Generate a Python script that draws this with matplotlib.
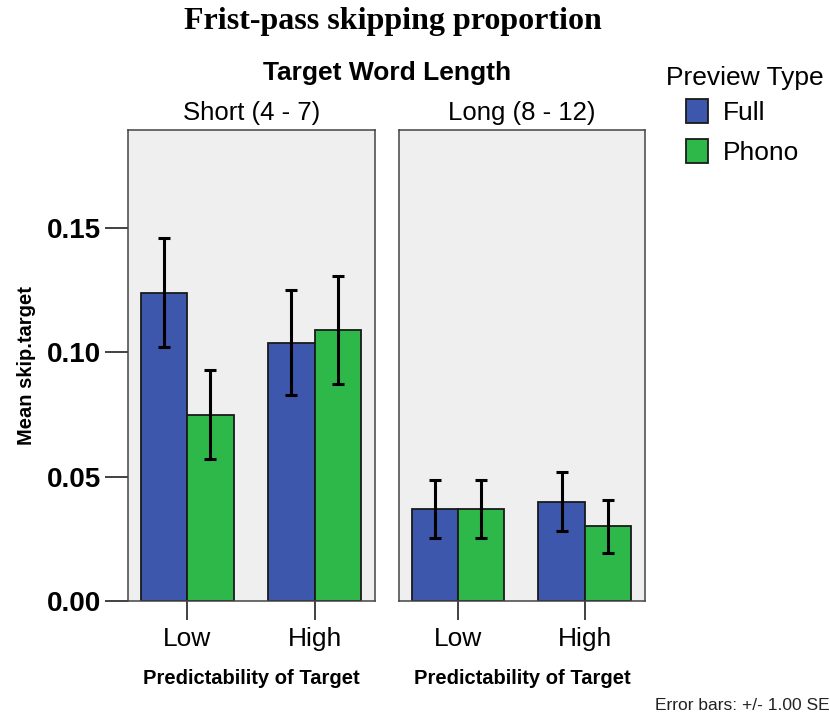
import matplotlib
matplotlib.use("Agg")
import matplotlib.pyplot as plt
from matplotlib.patches import Patch
import numpy as np

# skip proportions by word length panel, predictability and preview type
lengths = ["Short (4 - 7)", "Long (8 - 12)"]
predictability = ["Low", "High"]
preview = ["Full", "Phono"]
means = {
    "Short (4 - 7)": {"Full": [0.124, 0.104], "Phono": [0.075, 0.109]},
    "Long (8 - 12)": {"Full": [0.037, 0.040], "Phono": [0.037, 0.030]},
}
ses = {
    "Short (4 - 7)": {"Full": [0.022, 0.021], "Phono": [0.018, 0.0217]},
    "Long (8 - 12)": {"Full": [0.0117, 0.012], "Phono": [0.0117, 0.0108]},
}
colors = {"Full": "#3d57ac", "Phono": "#2eb84a"}

W, H = 830, 719
fig = plt.figure(figsize=(W / 100, H / 100), dpi=100)
sans = ["Liberation Sans", "DejaVu Sans"]
plt.rcParams["font.family"] = sans

fig.text(393 / W, 1 - 21 / H, "Frist-pass skipping proportion", ha="center", va="center",
         fontsize=23, fontweight="bold", family=["Liberation Serif", "DejaVu Serif"])
fig.text(387 / W, 1 - 73 / H, "Target Word Length", ha="center", va="center",
         fontsize=19, fontweight="bold")

panels = [(128, 247), (399, 246)]
top, bottom = 130, 601
x = np.arange(len(predictability))
bw = 0.365
for i, (length, (px, pw)) in enumerate(zip(lengths, panels)):
    ax = fig.add_axes([px / W, 1 - bottom / H, pw / W, (bottom - top) / H])
    ax.set_facecolor("#efefef")
    for j, p in enumerate(preview):
        off = (j - 0.5) * bw
        ax.bar(x + off, means[length][p], width=bw, color=colors[p],
               edgecolor="#1a1a1a", linewidth=1.3, zorder=2)
        ax.errorbar(x + off, means[length][p], yerr=ses[length][p], fmt="none",
                    ecolor="black", elinewidth=2.2, capsize=4.5, capthick=2.2, zorder=3)
    ax.set_xlim(-0.465, 1.475)
    ax.set_ylim(0, 0.1895)
    ax.set_xticks(x)
    ax.set_xticklabels(predictability, fontsize=19)
    ax.tick_params(axis="x", length=13.7, width=1.3, color="#333333", pad=5)
    ax.set_xlabel("Predictability of Target", fontsize=14.5, fontweight="bold", labelpad=13)
    for s in ax.spines.values():
        s.set_color("#444444")
        s.set_linewidth(1.1)
    ax.set_title(length, fontsize=18.5, pad=7)
    if i == 0:
        ax.set_yticks([0, 0.05, 0.10, 0.15])
        ax.set_yticklabels(["0.00", "0.05", "0.10", "0.15"], fontsize=20, fontweight="bold")
        ax.tick_params(axis="y", length=16.5, width=1.3, color="#333333", pad=3)
        ax.set_ylabel("Mean skip.target", fontsize=14.5, fontweight="bold", labelpad=8)
    else:
        ax.set_yticks([])

# legend title sits flush left, entries indented beneath it
fig.text(666 / W, 1 - 78 / H, "Preview Type", ha="left", va="center", fontsize=19)
handles = [Patch(facecolor=colors[p], edgecolor="#1a1a1a", linewidth=1.3) for p in preview]
fig.legend(handles, preview, loc="upper left", bbox_to_anchor=(686 / W, 1 - 99 / H),
           frameon=False, fontsize=19, handlelength=0.85, handleheight=1.0,
           handletextpad=0.55, labelspacing=0.55, borderpad=0, borderaxespad=0)

fig.text(655 / W, 1 - 705 / H, "Error bars: +/- 1.00 SE", ha="left", va="center",
         fontsize=12.5, color="#222222")

fig.savefig("out.png", dpi=100)
